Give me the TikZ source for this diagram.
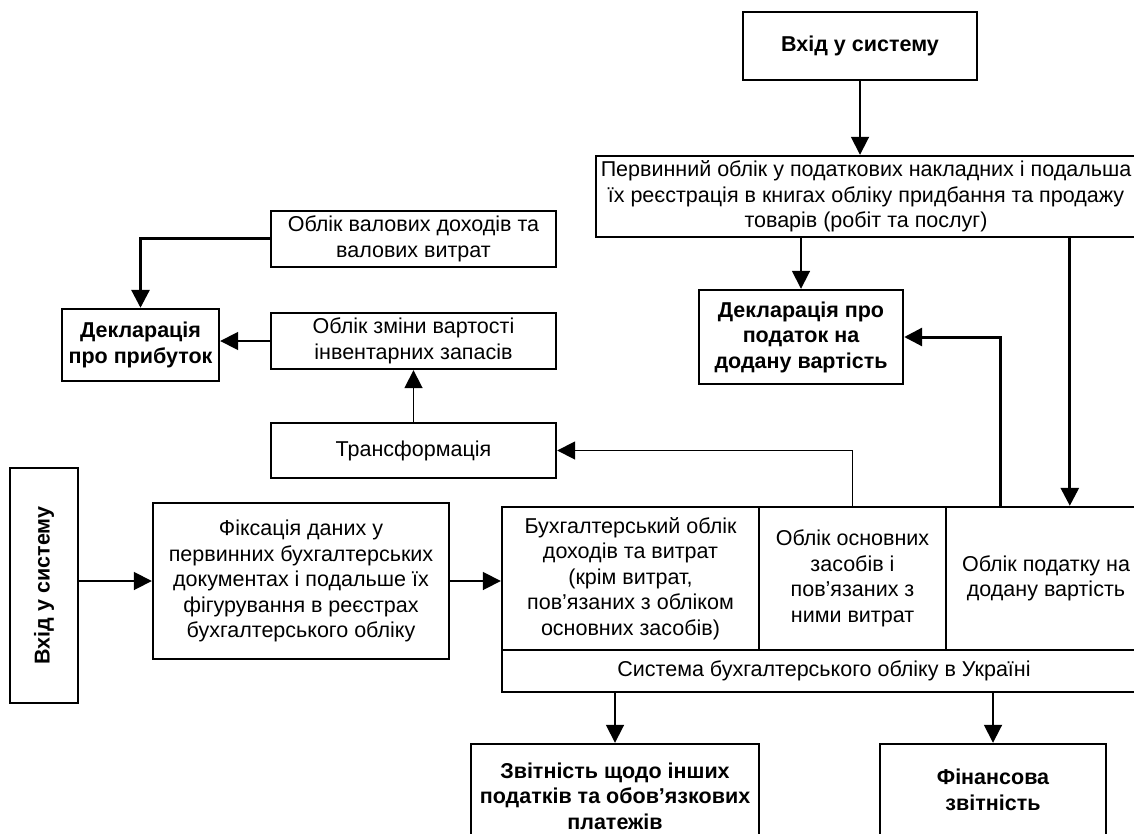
\documentclass[tikz,border=0pt]{standalone}
\usepackage{fontspec}
\setmainfont{Liberation Sans}
\usetikzlibrary{arrows.meta}

\begin{document}
\begin{tikzpicture}[x=1pt,y=-1pt]
        \tikzstyle{every node}=[draw,line width=2.4pt,align=center,inner sep=0pt,font=\fontsize{21.5}{25.5}\selectfont]
        \tikzstyle{boldbox}=[font=\fontsize{21.5}{25.5}\selectfont\bfseries]
        \tikzstyle{arr}=[line width=1.8pt,-{Triangle[width=18pt,length=18pt]}]
        \useasboundingbox (0,0) rectangle (1134,834);
        % upper right branch
        \node[boldbox,minimum width=234pt,minimum height=68pt] (topin) at (860,46) {Вхід у систему};
        \node[minimum width=540pt,minimum height=81pt] (perv) at (866,196.5) {Первинний облік у податкових накладних і подальша\\їх реєстрація в книгах обліку придбання та продажу\\товарів (робіт та послуг)};
        \node[boldbox,minimum width=204pt,minimum height=94pt] (dpdv) at (801,337) {Декларація про\\податок на\\додану вартість};
        % upper left branch
        \node[minimum width=285pt,minimum height=56pt] (valovi) at (413.5,239) {Облік валових доходів та\\валових витрат};
        \node[minimum width=285pt,minimum height=56pt] (zminy) at (413.5,341) {Облік зміни вартості\\інвентарних запасів};
        \node[boldbox,minimum width=157pt,minimum height=72pt] (dprib) at (140.5,345) {Декларація\\про прибуток};
        \node[minimum width=285pt,minimum height=55pt] (trans) at (413.5,450.5) {Трансформація};
        % input and the accounting system
        \node[minimum width=68pt,minimum height=235pt] (input) at (44,585.5) {};
        \node[draw=none,boldbox,rotate=90] at (input.center) {Вхід у систему};
        \node[minimum width=296pt,minimum height=156pt] (fix) at (301,581) {Фіксація даних у\\первинних бухгалтерських\\документах і подальше їх\\фігурування в реєстрах\\бухгалтерського обліку};
        \node[minimum width=257pt,minimum height=143pt] (cell1) at (630.5,578.5) {Бухгалтерський облік\\доходів та витрат\\(крім витрат,\\пов’язаних з обліком\\основних засобів)};
        \node[minimum width=187pt,minimum height=143pt] (cell2) at (852.5,578.5) {Облік основних\\засобів і\\пов’язаних з\\ними витрат};
        \node[minimum width=200pt,minimum height=143pt] (cell3) at (1046,578.5) {Облік податку на\\додану вартість};
        \node[minimum width=644pt,minimum height=42pt] (sys) at (824,671) {Система бухгалтерського обліку в Україні};
        % reports
        \node[boldbox,minimum width=288pt,minimum height=104pt] (zvit) at (615,796) {Звітність щодо інших\\податків та обов’язкових\\платежів};
        \node[boldbox,minimum width=226pt,minimum height=92pt] (fin) at (993,790) {Фінансова\\звітність};
        % connectors
        \draw[arr] (topin.south) -- (perv.north -| topin.south);
        \draw[arr] (perv.south -| dpdv.north) -- (dpdv.north);
        \draw[arr,line width=3pt] ([xshift=125pt]cell3.north west |- perv.south) -- ([xshift=125pt]cell3.north west);
        \draw[arr,line width=3pt] ([xshift=56pt]cell3.north west) |- (dpdv.east);
        \draw[arr] (cell2.north) |- (trans.east);
        \draw[arr] (trans.north) -- (zminy.south);
        \draw[arr] (zminy.west) -- (zminy.west -| dprib.east);
        \draw[arr,line width=3pt] (valovi.west) -| (dprib.north);
        \draw[arr] (fix.west -| input.east) -- (fix.west);
        \draw[arr] (fix.east) -- (fix.east -| cell1.west);
        \draw[arr] (sys.south -| zvit.north) -- (zvit.north);
        \draw[arr] (sys.south -| fin.north) -- (fin.north);
\end{tikzpicture}
\end{document}
